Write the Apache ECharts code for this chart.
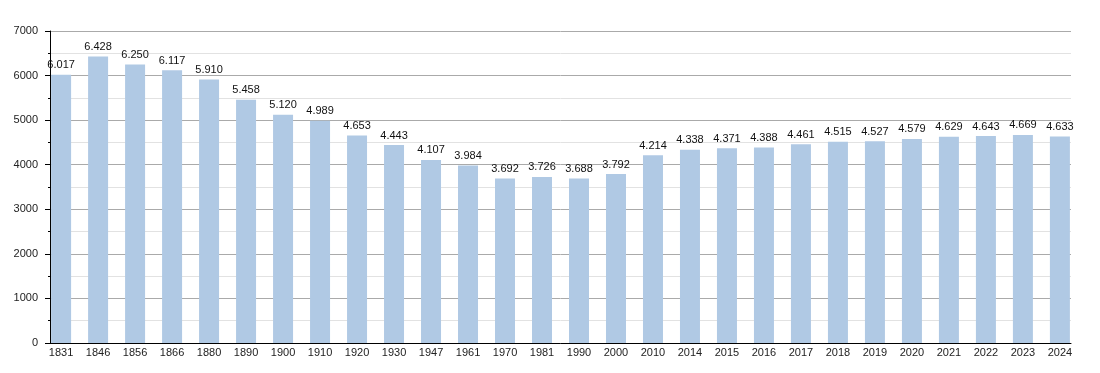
<!DOCTYPE html>
<html>
<head>
<meta charset="utf-8">
<script src="https://cdn.jsdelivr.net/npm/echarts@6/dist/echarts.min.js"></script>
<style>
html,body{margin:0;padding:0;background:#fff;}
#c{width:1100px;height:373px;}
</style>
</head>
<body>
<div id="c"></div>
<script>
const years = ['1831','1846','1856','1866','1880','1890','1900','1910','1920','1930','1947','1961','1970','1981','1990','2000','2010','2014','2015','2016','2017','2018','2019','2020','2021','2022','2023','2024'];
const population = [6017,6428,6250,6117,5910,5458,5120,4989,4653,4443,4107,3984,3692,3726,3688,3792,4214,4338,4371,4388,4461,4515,4527,4579,4629,4643,4669,4633];
const yTicks = [0,1000,2000,3000,4000,5000,6000,7000];

const fmt = v => {
  const s = String(Math.round(v));
  return s.length > 3 ? s.slice(0, s.length - 3) + '.' + s.slice(-3) : s;
};

const chart = echarts.init(document.getElementById('c'));
chart.setOption({
  animation: false,
  backgroundColor: '#fff',
  textStyle: { fontFamily: 'Liberation Sans, Arial, sans-serif' },
  grid: { left: 50, right: 29, top: 31, bottom: 30, containLabel: false },
  xAxis: {
    type: 'value',
    min: -0.3,
    max: years.length - 1 + 0.3,
    axisLine: { show: true, onZero: false, lineStyle: { color: '#000', width: 1 } },
    axisTick: { show: false },
    splitLine: { show: false },
    axisLabel: {
      customValues: years.map((y, i) => i),
      formatter: v => years[Math.round(v)],
      color: '#222', fontSize: 11, margin: 4,
      fontFamily: 'Liberation Sans, Arial, sans-serif'
    }
  },
  yAxis: {
    type: 'value',
    min: yTicks[0],
    max: yTicks[yTicks.length - 1],
    interval: 1000,
    position: 'left',
    axisLine: { show: true, onZero: false, lineStyle: { color: '#000', width: 1 } },
    axisTick: { show: true, length: 5, lineStyle: { color: '#000' } },
    minorTick: { show: true, splitNumber: 2, length: 2, lineStyle: { color: '#000' } },
    splitLine: { show: true, lineStyle: { color: '#aaaaaa', width: 1 } },
    minorSplitLine: { show: true, lineStyle: { color: '#e2e2e2', width: 1 } },
    axisLabel: {
      color: '#222', fontSize: 11, margin: 12,
      formatter: v => String(v),
      fontFamily: 'Liberation Sans, Arial, sans-serif'
    }
  },
  series: [{
    type: 'bar',
    data: population.map((v, i) => [i, v]),
    barWidth: 20,
    itemStyle: { color: '#b0c9e4' },
    label: {
      show: true,
      position: 'top',
      distance: 4,
      color: '#111',
      fontSize: 11,
      fontFamily: 'Liberation Sans, Arial, sans-serif',
      formatter: p => fmt(p.value[1])
    }
  }]
});
</script>
</body>
</html>
